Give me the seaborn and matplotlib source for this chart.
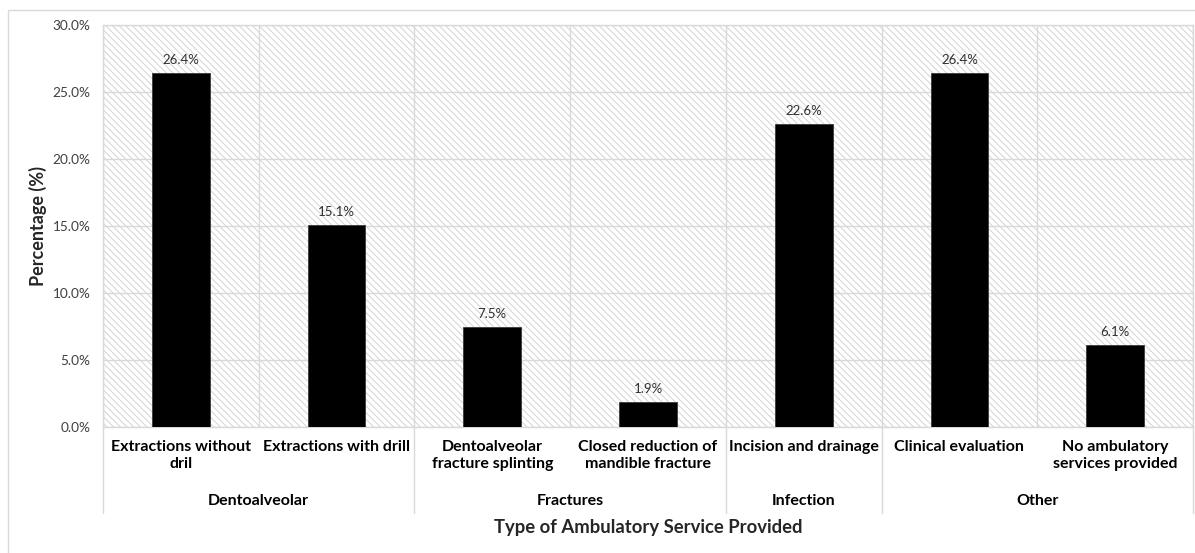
import matplotlib
matplotlib.use("Agg")
import matplotlib.pyplot as plt
from matplotlib.patches import Rectangle
from matplotlib.lines import Line2D
from matplotlib.ticker import PercentFormatter, MultipleLocator
import seaborn as sns
import pandas as pd

# Ambulatory services and their share (%)
services = [
    "Extractions without\ndril",
    "Extractions with drill",
    "Dentoalveolar\nfracture splinting",
    "Closed reduction of\nmandible fracture",
    "Incision and drainage",
    "Clinical evaluation",
    "No ambulatory\nservices provided",
]
percentages = [26.4, 15.1, 7.5, 1.9, 22.6, 26.4, 6.1]
groups = ["Dentoalveolar", "Fractures", "Infection", "Other"]
group_sizes = [2, 2, 1, 2]

df = pd.DataFrame({"service": services, "pct": percentages})

sns.set_theme(style="white")
plt.rcParams["font.family"] = ["Lato", "DejaVu Sans"]
plt.rcParams["hatch.linewidth"] = 0.7

W, H = 1195, 553
fig = plt.figure(figsize=(W / 100, H / 100), dpi=100)
ax = fig.add_axes([103 / W, 1 - 427 / H, (1193 - 103) / W, (427 - 25) / H])

grid_c = "#d9d9d9"

# hatched plot background
ax.patch.set_facecolor("white")
ax.patch.set_hatch("\\\\\\\\\\")
ax.patch.set_edgecolor("#d3d3d3")

sns.barplot(data=df, x="service", y="pct", color="black", width=0.37,
            edgecolor="#3a3a3a", linewidth=0.6, saturation=1, ax=ax, zorder=3)

ax.set_ylim(0, 30)
ax.set_xlim(-0.5, len(services) - 0.5)
ax.yaxis.set_major_locator(MultipleLocator(5))
ax.yaxis.set_major_formatter(PercentFormatter(decimals=1))
ax.grid(axis="y", color=grid_c, linewidth=1.0, zorder=1)
ax.set_axisbelow(True)
for i in range(len(services) + 1):
    ax.axvline(i - 0.5, color=grid_c, linewidth=1.0, zorder=1)
for s in ax.spines.values():
    s.set_color(grid_c)
    s.set_linewidth(1.0)

ax.tick_params(axis="y", labelsize=9.8, labelcolor="#404040", length=0, pad=9)
ax.tick_params(axis="x", length=0)
ax.set_xticks(range(len(services)))
ax.set_xticklabels([])
ax.set_xlabel("")
ax.set_ylabel("Percentage (%)", fontsize=13, fontweight="bold")
ax.yaxis.set_label_coords(-0.051, 0.5)

# value labels
for c in ax.containers:
    ax.bar_label(c, fmt="%.1f%%", padding=5, fontsize=9.5, color="#303030")

# two-level category axis
tr = ax.get_xaxis_transform()
for i, lab in enumerate(services):
    ax.text(i, -0.032, lab, transform=tr, ha="center", va="top",
            fontsize=11.5, fontweight="bold", color="black",
            linespacing=1.25, clip_on=False)

start = 0
bounds = [-0.5]
for g, n in zip(groups, group_sizes):
    center = start + (n - 1) / 2
    ax.text(center, -0.184, g, transform=tr, ha="center", va="center",
            fontsize=11.5, fontweight="bold", color="black", clip_on=False)
    start += n
    bounds.append(start - 0.5)
for b in bounds:
    ax.add_line(Line2D([b, b], [0, -0.214], transform=tr, color=grid_c,
                       linewidth=1.0, clip_on=False))

fig.text(648 / W, 1 - 528 / H, "Type of Ambulatory Service Provided",
         ha="center", va="center", fontsize=13.3, fontweight="bold")

# outer chart frame
fig.patches.append(Rectangle((8 / W, -0.1), 1.2, 1.1 - 10 / H,
                             transform=fig.transFigure, fill=False,
                             edgecolor=grid_c, linewidth=1.0))

fig.savefig("out.png", dpi=100)
